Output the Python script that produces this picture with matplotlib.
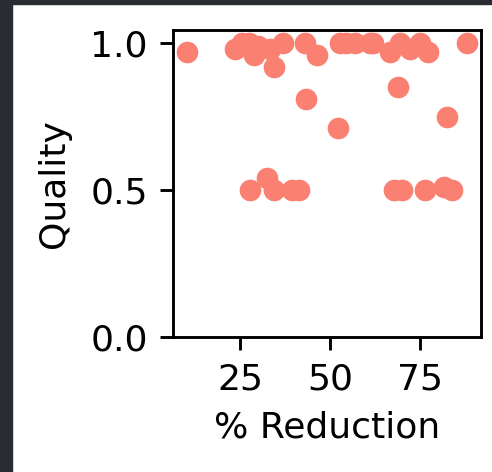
import matplotlib
matplotlib.use('Agg')
import matplotlib.pyplot as plt
from matplotlib.patches import Rectangle

# % reduction vs quality
reduction = [10.2, 23.6, 25.5, 27.3, 28.7, 30.0, 33.3, 34.3, 37.0, 43.1, 46.3,
             52.8, 54.5, 56.9, 61.1, 62.0, 66.7, 69.4, 72.2, 75.0, 77.3, 88.0,
             43.3, 52.3, 68.8, 82.4,
             27.8, 32.4, 34.3, 39.4, 41.2, 67.6, 69.9, 76.4, 81.5, 83.8]
quality = [0.97, 0.98, 1.0, 1.0, 0.96, 0.99, 0.98, 0.92, 1.0, 1.0, 0.96,
           1.0, 1.0, 1.0, 1.0, 1.0, 0.97, 1.0, 0.98, 1.0, 0.97, 1.0,
           0.81, 0.71, 0.85, 0.75,
           0.5, 0.54, 0.5, 0.5, 0.5, 0.5, 0.5, 0.5, 0.51, 0.5]
yticks = [0.0, 0.5, 1.0]
xticks = [25, 50, 75]

k = 2.6  # scale from a small high-dpi figure
fig = plt.figure(figsize=(4.92, 4.72), dpi=100)
ax = fig.add_axes([0.3516, 0.286, 0.626, 0.6504])

ax.scatter(reduction, quality, s=36 * k * k, color='salmon', linewidths=0, zorder=3)

ax.set_xlim(6.3, 91.9)
ax.set_ylim(0, 1.045)
ax.set_xticks(xticks)
ax.set_yticks(yticks)
ax.set_yticklabels(['0.0', '0.5', '1.0'])
ax.tick_params(labelsize=10 * k, length=3.5 * k, width=0.8 * k, pad=3.5 * k)
for s in ax.spines.values():
    s.set_linewidth(0.8 * k)

ax.set_xlabel('% Reduction', fontsize=10 * k, labelpad=4 * k)
ax.set_ylabel('Quality', fontsize=10 * k, labelpad=14)

# dark screenshot frame on the left and top
fig.patches.append(Rectangle((0, 0), 12 / 492, 1, transform=fig.transFigure,
                             color='#2a2c33', zorder=10))
fig.patches.append(Rectangle((0, 1 - 4 / 472), 1, 4 / 472, transform=fig.transFigure,
                             color='#2a2c33', zorder=10))

fig.savefig('out.png', dpi=100)
